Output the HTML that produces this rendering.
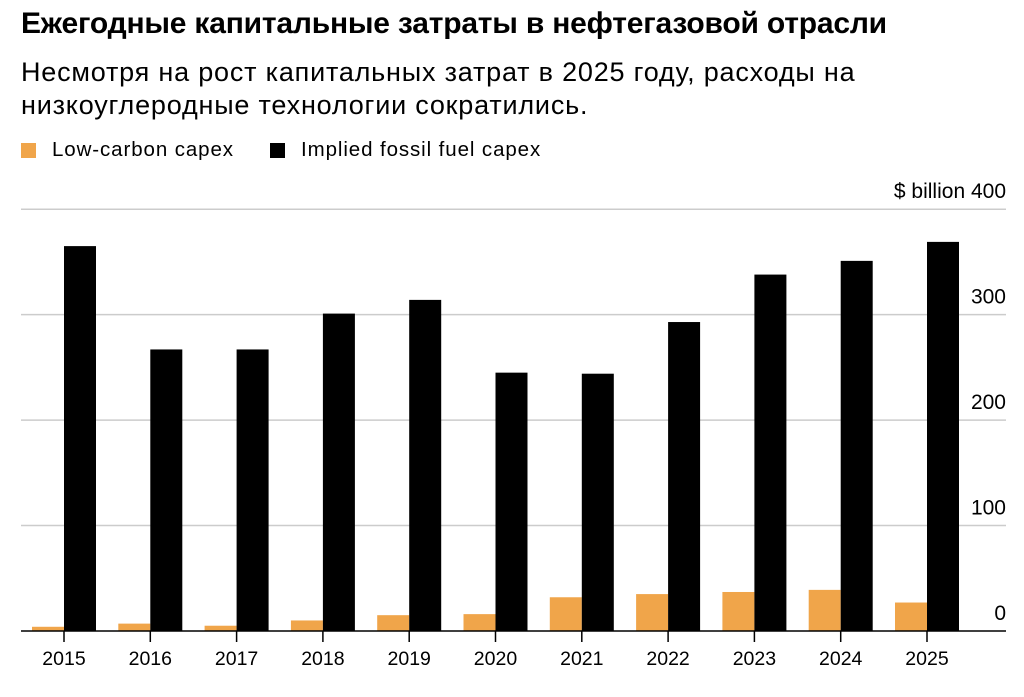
<!DOCTYPE html>
<html><head><meta charset="utf-8"><style>
body{margin:0;background:#fff;width:1024px;height:697px;overflow:hidden;font-family:"Liberation Sans","Noto Sans CJK SC",sans-serif;color:#000}
.t{position:absolute;left:21px;top:7px;font-size:30px;font-weight:bold;letter-spacing:-0.2px;white-space:nowrap}
.s{position:absolute;left:21px;top:56px;font-size:27px;letter-spacing:0.8px;line-height:33px;width:1000px;white-space:nowrap}
.lg{position:absolute;top:138px;font-size:20.5px;letter-spacing:0.9px;display:flex;align-items:center}
.sw{width:15px;height:15px;margin-right:16px;display:inline-block}
svg{position:absolute;left:0;top:0}
</style></head><body>
<div class="t">Ежегодные капитальные затраты в нефтегазовой отрасли</div>
<div class="s">Несмотря на рост капитальных затрат в 2025 году, расходы на<br>низкоуглеродные технологии сократились.</div>
<div class="lg" style="left:21px"><span class="sw" style="background:#f0a54a"></span>Low-carbon capex</div>
<div class="lg" style="left:270px"><span class="sw" style="background:#000"></span>Implied fossil fuel capex</div>
<svg id="c" width="1024" height="697"></svg>
<script>
const years=["2015","2016","2017","2018","2019","2020","2021","2022","2023","2024","2025"];
const lowCarbon=[4,7,5,10,15,16,32,35,37,39,27];
const fossil=[365,267,267,301,314,245,244,293,338,351,369];
const ticks=[0,100,200,300,400];
const NS="http://www.w3.org/2000/svg";
const svg=document.getElementById('c');
const y=v=>631-v*1.0545;
const x=i=>64+i*86.3;
function mk(tag,attrs){const e=document.createElementNS(NS,tag);for(const k in attrs)e.setAttribute(k,attrs[k]);svg.appendChild(e);return e;}
ticks.forEach(t=>{
  if(t>0){const l=mk('line',{x1:21,x2:1006,y1:y(t),y2:y(t),stroke:'#ccc','stroke-width':1.5});
  
  }
  const tx=mk('text',{x:1006,y:y(t)-11,'text-anchor':'end','font-size':21,'font-family':'Liberation Sans, sans-serif'});
  tx.textContent=(t===400?'$ billion ':'')+t;
  
  
});
years.forEach((yr,i)=>{
  const a=mk('rect',{x:x(i)-32,y:y(lowCarbon[i]),width:32,height:631-y(lowCarbon[i]),fill:'#f0a54a'});
  
  
  const b=mk('rect',{x:x(i),y:y(fossil[i]),width:32,height:631-y(fossil[i]),fill:'#000'});
  
  
  const tk=mk('line',{x1:x(i),x2:x(i),y1:631,y2:642,stroke:'#000','stroke-width':1.5});
  
  
  const lb=mk('text',{x:x(i),y:665,'text-anchor':'middle','font-size':19.5,'font-family':'Liberation Sans, sans-serif'});
  lb.textContent=yr;
  
  
});
const ax=mk('line',{x1:21,x2:1006,y1:631,y2:631,stroke:'#000','stroke-width':1.5});


</script>
</body></html>
